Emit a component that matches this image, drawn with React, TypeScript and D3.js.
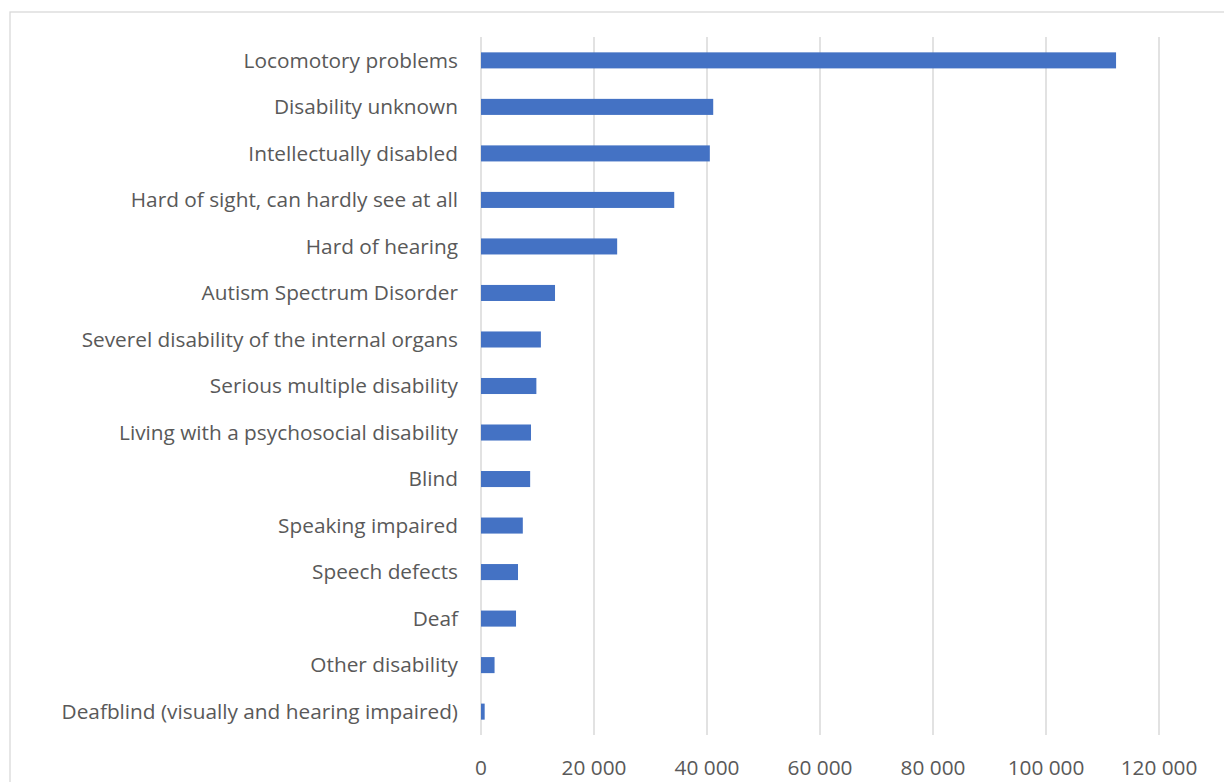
import React from 'react';
import * as d3 from 'd3';

// categories top to bottom
const categories = [
  'Locomotory problems',
  'Disability unknown',
  'Intellectually disabled',
  'Hard of sight, can hardly see at all',
  'Hard of hearing',
  'Autism Spectrum Disorder',
  'Severel disability of the internal organs',
  'Serious multiple disability',
  'Living with a psychosocial disability',
  'Blind',
  'Speaking impaired',
  'Speech defects',
  'Deaf',
  'Other disability',
  'Deafblind (visually and hearing impaired)',
];

const values = [
  112400, 41100, 40500, 34200, 24100, 13100, 10600, 9800, 8850, 8700, 7400, 6550, 6200, 2400, 650,
];

const xTicks = [0, 20000, 40000, 60000, 80000, 100000, 120000];

const W = 1224;
const H = 782;
const margin = { left: 481, right: 65, top: 37, bottom: 47 };

const fmt = d3.formatLocale({ decimal: ',', thousands: ' ', grouping: [3], currency: ['', ''] }).format(',d');

const App = () => {
  const x = d3.scaleLinear().domain([0, 120000]).range([margin.left, W - margin.right]);
  const y = d3
    .scaleBand<string>()
    .domain(categories)
    .range([margin.top, H - margin.bottom])
    .paddingInner(0.655)
    .paddingOuter(0.33);

  const font = "'Open Sans', 'Noto Sans', sans-serif";

  return (
    <svg width={W} height={H} style={{ position: 'absolute', left: 0, top: 0 }}>
      <rect x={0} y={0} width={W} height={H} fill="#fff" />
      {/* chart border, runs off the picture at right and bottom */}
      <rect x={10} y={12} width={W + 20} height={H + 20} fill="none" stroke="#d9d9d9" strokeWidth={1.3} />

      {/* vertical gridlines */}
      {xTicks.map((t) => (
        <line
          key={t}
          x1={x(t)}
          x2={x(t)}
          y1={margin.top}
          y2={H - margin.bottom}
          stroke="#d9d9d9"
          strokeWidth={1.5}
        />
      ))}

      {/* bars */}
      {categories.map((c, i) => (
        <rect
          key={c}
          x={x(0)}
          y={y(c)}
          width={x(values[i]) - x(0)}
          height={y.bandwidth()}
          fill="#4472c4"
        />
      ))}

      {/* category labels */}
      {categories.map((c) => (
        <text
          key={c}
          x={margin.left - 23}
          y={(y(c) || 0) + y.bandwidth() / 2}
          dy="0.35em"
          textAnchor="end"
          fontFamily={font}
          fontSize={20.8}
          fill="#595959"
        >
          {c}
        </text>
      ))}

      {/* x tick labels */}
      {xTicks.map((t) => (
        <text
          key={t}
          x={x(t)}
          y={768}
          dy="0.35em"
          textAnchor="middle"
          fontFamily={font}
          fontSize={20.8}
          fill="#595959"
        >
          {fmt(t)}
        </text>
      ))}
    </svg>
  );
};

export default App;
